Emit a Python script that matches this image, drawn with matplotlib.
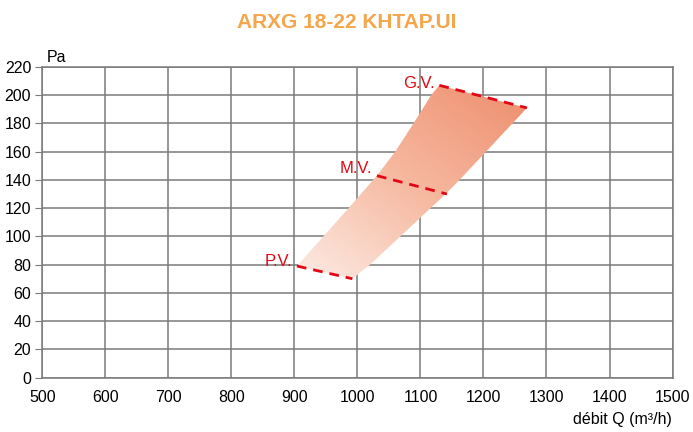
import numpy as np
import matplotlib.pyplot as plt
from matplotlib.patches import Polygon
from matplotlib.colors import LinearSegmentedColormap

plt.rcParams['font.family'] = ['Liberation Sans', 'DejaVu Sans']

# edges of the working zone (m3/h, Pa)
left_q = [904, 946, 986, 1025, 1031, 1060, 1089, 1117, 1130]
left_p = [79, 100, 120, 140, 143, 160, 180, 200, 207]
right_q = [992, 1020, 1068, 1116, 1140, 1162, 1204, 1246, 1269]
right_p = [70, 80, 100, 120, 130, 140, 160, 180, 191]

speed_labels = ['P.V.', 'M.V.', 'G.V.']
speed_q = [(904, 992), (1031, 1142), (1130, 1269)]
speed_p = [(79, 70), (143, 130), (207, 191)]
label_dp = [3, 5, 1]

fig = plt.figure(figsize=(6.93, 4.32), dpi=100)
ax = fig.add_axes([0.061, 0.126, 0.9095, 0.719])

ax.set_xlim(500, 1500)
ax.set_ylim(0, 220)
ax.set_xticks(range(500, 1501, 100))
ax.set_yticks(range(0, 221, 20))
ax.grid(True, color='#7a7a7a', linewidth=1.1)
ax.set_axisbelow(True)
for s in ax.spines.values():
    s.set_color('#7a7a7a')
    s.set_linewidth(1.1)
ax.tick_params(axis='y', length=5, color='#7a7a7a', labelsize=11.5, pad=3)
ax.tick_params(axis='x', length=0, labelsize=11.5, pad=9)

# gradient filled zone
verts = list(zip(left_q, left_p)) + list(zip(right_q[::-1], right_p[::-1]))
poly = Polygon(verts, closed=True, facecolor='none', edgecolor='none')
ax.add_patch(poly)
cmap = LinearSegmentedColormap.from_list('zone', ['#fdeee8', '#f6b89f', '#ee8c6c'])
gx, gy = np.meshgrid(np.linspace(0, 1, 200), np.linspace(0, 1, 200))
grad = gx * 0.45 + gy * 0.55
im = ax.imshow(grad, extent=(900, 1275, 65, 210), origin='lower', cmap=cmap,
               aspect='auto', interpolation='bilinear', zorder=2)
im.set_clip_path(poly)

for lab, q, p, dp in zip(speed_labels, speed_q, speed_p, label_dp):
    ax.plot(q, p, color='#e30613', linewidth=2, dashes=(3.5, 2.5), zorder=3)
    ax.text(q[0] - 7, p[0] + dp, lab, color='#e30613', fontsize=12,
            ha='right', va='center', zorder=4)

fig.text(0.5, 0.948, 'ARXG 18-22 KHTAP.UI', color='#f5a54a', fontsize=15,
         fontweight='bold', ha='center', va='center')
fig.text(0.068, 0.868, 'Pa', fontsize=11.5, ha='left', va='center')
fig.text(0.97, 0.03, 'débit Q (m³/h)', fontsize=11.5, ha='right', va='center')

fig.savefig('out.png', dpi=100)
